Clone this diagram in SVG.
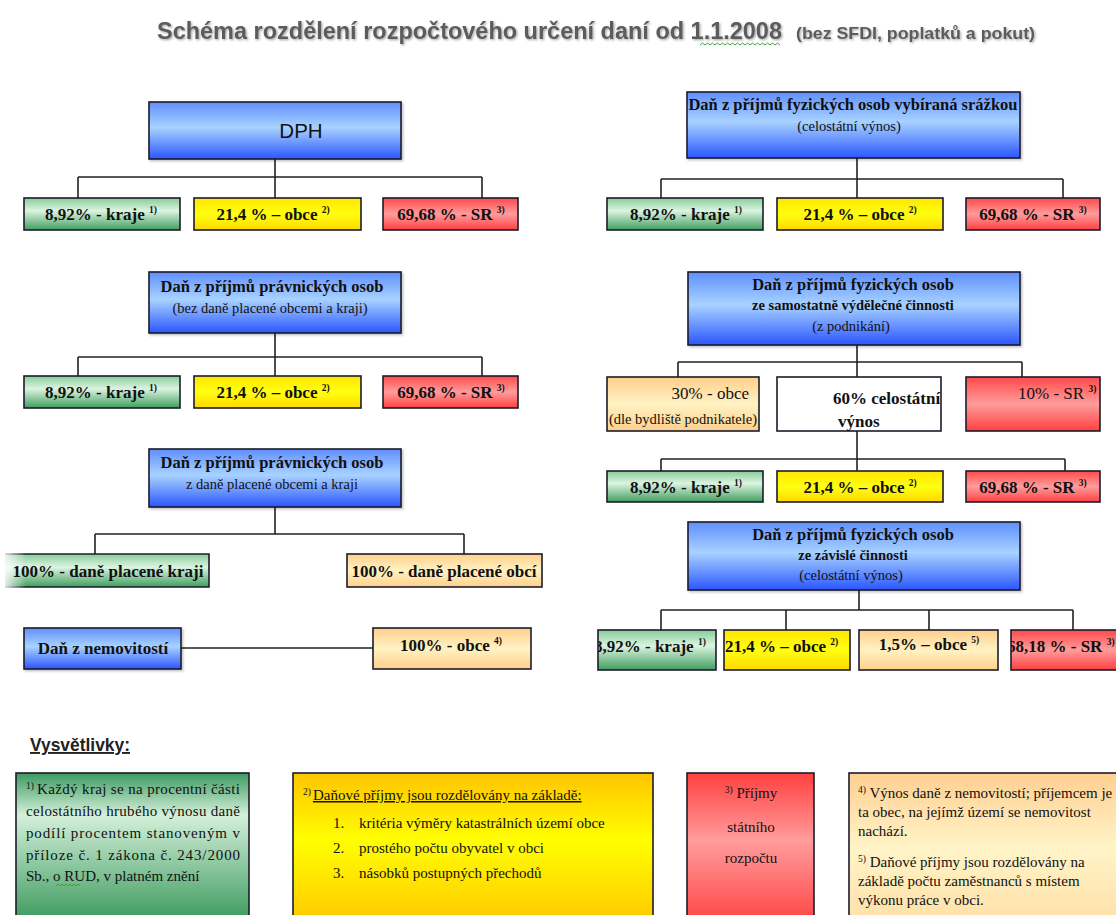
<svg xmlns="http://www.w3.org/2000/svg" width="1116" height="915" viewBox="0 0 1116 915">
<defs>
<linearGradient id="gBlue" x1="0" y1="0" x2="0" y2="1"><stop offset="0" stop-color="#5f8fff"/><stop offset="0.45" stop-color="#a8d2ff"/><stop offset="1" stop-color="#2b56ff"/></linearGradient>
<linearGradient id="gGreen" x1="0" y1="0" x2="0" y2="1"><stop offset="0" stop-color="#86cc98"/><stop offset="0.4" stop-color="#dcf4e1"/><stop offset="1" stop-color="#3f9e5e"/></linearGradient>
<linearGradient id="gYellow" x1="0" y1="0" x2="0" y2="1"><stop offset="0" stop-color="#ffe600"/><stop offset="0.5" stop-color="#ffff10"/><stop offset="1" stop-color="#ffd800"/></linearGradient>
<linearGradient id="gRed" x1="0" y1="0" x2="0" y2="1"><stop offset="0" stop-color="#ff4a4a"/><stop offset="0.5" stop-color="#ff9c9c"/><stop offset="1" stop-color="#ff4040"/></linearGradient>
<linearGradient id="gPeach" x1="0" y1="0" x2="0" y2="1"><stop offset="0" stop-color="#ffcf8c"/><stop offset="0.5" stop-color="#fff2c2"/><stop offset="1" stop-color="#ffd08c"/></linearGradient>
<linearGradient id="gLGreen" x1="0" y1="0" x2="0" y2="1"><stop offset="0" stop-color="#3d9a60"/><stop offset="0.28" stop-color="#d4f0da"/><stop offset="1" stop-color="#3a985c"/></linearGradient>
<linearGradient id="gLYellow" x1="0" y1="0" x2="0" y2="1"><stop offset="0" stop-color="#ffc400"/><stop offset="0.45" stop-color="#ffff00"/><stop offset="1" stop-color="#ffc800"/></linearGradient>
<linearGradient id="gLRed" x1="0" y1="0" x2="0" y2="1"><stop offset="0" stop-color="#ff4040"/><stop offset="0.45" stop-color="#ff9c9c"/><stop offset="1" stop-color="#ff4545"/></linearGradient>
<linearGradient id="gLPeach" x1="0" y1="0" x2="0" y2="1"><stop offset="0" stop-color="#ffcf90"/><stop offset="0.5" stop-color="#fff4c8"/><stop offset="1" stop-color="#ffe0a8"/></linearGradient>
<linearGradient id="gFade" x1="0" y1="0" x2="1" y2="0"><stop offset="0" stop-color="#ffffff" stop-opacity="1"/><stop offset="1" stop-color="#ffffff" stop-opacity="0"/></linearGradient>
<filter id="tshadow" x="-5%" y="-30%" width="110%" height="160%"><feDropShadow dx="1.2" dy="1.2" stdDeviation="0.8" flood-color="#000" flood-opacity="0.35"/></filter>
<filter id="bshadow" x="-5%" y="-10%" width="115%" height="130%"><feDropShadow dx="1.5" dy="1.5" stdDeviation="1.2" flood-color="#000" flood-opacity="0.25"/></filter>
<clipPath id="clipG4"><rect x="598" y="630" width="118" height="40"/></clipPath>
<clipPath id="clipR4"><rect x="1011" y="630" width="110" height="40"/></clipPath>
</defs>
<style>
.bx{stroke:#1c1c2c;stroke-width:1.6}
.conn{stroke:#222;stroke-width:1.6;fill:none}
.t{font-family:"Liberation Serif","Times New Roman",serif;fill:#111}
.b{font-weight:bold}
.h{font-size:16.5px}
.lf{font-size:17px}
.f16{font-size:16px}
.f14{font-size:14.5px}
.f15{font-size:15px}
.sup{font-size:9.5px}
.mid{text-anchor:middle}
.sans{font-family:"Liberation Sans",Arial,sans-serif}
.wave{fill:none;stroke:#3aa33a;stroke-width:1}
</style>
<rect width="1116" height="915" fill="#ffffff"/>

<g id="title" filter="url(#tshadow)">
<text class="sans" x="157" y="39" font-size="24" font-weight="bold" fill="#5c5c5c" textLength="625" lengthAdjust="spacingAndGlyphs">Schéma rozdělení rozpočtového určení daní od 1.1.2008</text>
<text class="sans" x="796" y="39" font-size="17" font-weight="bold" fill="#5c5c5c" textLength="239" lengthAdjust="spacingAndGlyphs">(bez SFDI, poplatků a pokut)</text>
</g>
<path class="wave" d="M700 45 l2.5 -2 l2.5 2 l2.5 -2 l2.5 2 l2.5 -2 l2.5 2 l2.5 -2 l2.5 2 l2.5 -2 l2.5 2 l2.5 -2 l2.5 2 l2.5 -2 l2.5 2 l2.5 -2 l2.5 2 l2.5 -2 l2.5 2 l2.5 -2 l2.5 2 l2.5 -2 l2.5 2 l2.5 -2 l2.5 2 l2.5 -2 l2.5 2 l2.5 -2 l2.5 2 l2.5 -2 l2.5 2 l2.5 -2 l2.5 2"/>

<g id="connectors">
<path class="conn" d="M275 159V177M78 177H482M78 177V198M275 177V198M482 177V198"/>
<path class="conn" d="M275 333V357M78 357H482M78 357V376M275 357V376M482 357V376"/>
<path class="conn" d="M275 507V534M95 534H464M95 534V554M464 534V554"/>
<path class="conn" d="M181 648H373"/>
<path class="conn" d="M857 158V179M661 179H1063M661 179V198M857 179V198M1063 179V198"/>
<path class="conn" d="M857 345V362M678 362H1022M678 362V377M857 362V377M1022 362V377"/>
<path class="conn" d="M857 431V459M661 459H1065M661 459V471M857 459V471M1065 459V471"/>
<path class="conn" d="M859 590V610M661 610H1073M661 610V630M786 610V630M929 610V630M1073 610V630"/>
</g>

<!-- Left column -->
<g id="node-dph">
<rect class="bx" x="149" y="102" width="252" height="57" fill="url(#gBlue)" filter="url(#bshadow)"/>
<text class="sans" x="301" y="138" font-size="20.5" fill="#111" text-anchor="middle">DPH</text>
</g>
<g id="node-dph-kraje"><rect class="bx" x="24" y="198" width="156" height="32" fill="url(#gGreen)"/><text class="t b lf mid" x="101" y="220">8,92% - kraje <tspan class="sup" dy="-7">1)</tspan></text></g>
<g id="node-dph-obce"><rect class="bx" x="194" y="198" width="167" height="32" fill="url(#gYellow)"/><text class="t b lf mid" x="273" y="220">21,4 % – obce <tspan class="sup" dy="-7">2)</tspan></text></g>
<g id="node-dph-sr"><rect class="bx" x="383" y="198" width="135" height="32" fill="url(#gRed)"/><text class="t b lf mid" x="451" y="220">69,68 % - SR <tspan class="sup" dy="-7">3)</tspan></text></g>

<g id="node-dppo">
<rect class="bx" x="149" y="272" width="252" height="61" fill="url(#gBlue)" filter="url(#bshadow)"/>
<text class="t b h mid" x="272" y="292">Daň z příjmů právnických osob</text>
<text class="t f14 mid" x="270" y="313">(bez daně placené obcemi a kraji)</text>
</g>
<g id="node-dppo-kraje"><rect class="bx" x="24" y="376" width="156" height="32" fill="url(#gGreen)"/><text class="t b lf mid" x="101" y="398">8,92% - kraje <tspan class="sup" dy="-7">1)</tspan></text></g>
<g id="node-dppo-obce"><rect class="bx" x="194" y="376" width="167" height="32" fill="url(#gYellow)"/><text class="t b lf mid" x="273" y="398">21,4 % – obce <tspan class="sup" dy="-7">2)</tspan></text></g>
<g id="node-dppo-sr"><rect class="bx" x="383" y="376" width="135" height="32" fill="url(#gRed)"/><text class="t b lf mid" x="451" y="398">69,68 % - SR <tspan class="sup" dy="-7">3)</tspan></text></g>

<g id="node-dppo-obce-kraje">
<rect class="bx" x="149" y="449" width="252" height="58" fill="url(#gBlue)" filter="url(#bshadow)"/>
<text class="t b h mid" x="272" y="468">Daň z příjmů právnických osob</text>
<text class="t f14 mid" x="272" y="489">z daně placené obcemi a kraji</text>
</g>
<g id="node-dane-kraji">
<rect x="5" y="554" width="204" height="33" fill="url(#gGreen)"/>
<path class="bx" fill="none" d="M5 554H209V587H5"/>
<rect x="0" y="552" width="26" height="37" fill="url(#gFade)"/>
<text class="t b lf mid" x="108" y="577">100% - daně placené kraji</text>
</g>
<g id="node-dane-obci"><rect class="bx" x="347" y="554" width="195" height="33" fill="url(#gPeach)"/><text class="t b lf mid" x="444" y="577">100% - daně placené obcí</text></g>

<g id="node-nemovitosti"><rect class="bx" x="24" y="628" width="157" height="41" fill="url(#gBlue)" filter="url(#bshadow)"/><text class="t b lf mid" x="103" y="654">Daň z nemovitostí</text></g>
<g id="node-nemovitosti-obce"><rect class="bx" x="373" y="628" width="158" height="41" fill="url(#gPeach)"/><text class="t b lf mid" x="451" y="651">100% - obce <tspan class="sup" dy="-7">4)</tspan></text></g>

<!-- Right column -->
<g id="node-dpfo-srazka">
<rect class="bx" x="687" y="92" width="333" height="66" fill="url(#gBlue)" filter="url(#bshadow)"/>
<text class="t b h mid" x="853" y="110">Daň z příjmů fyzických osob vybíraná srážkou</text>
<text class="t f14 mid" x="849" y="131">(celostátní výnos)</text>
</g>
<g id="node-srazka-kraje"><rect class="bx" x="607" y="198" width="156" height="32" fill="url(#gGreen)"/><text class="t b lf mid" x="686" y="220">8,92% - kraje <tspan class="sup" dy="-7">1)</tspan></text></g>
<g id="node-srazka-obce"><rect class="bx" x="777" y="198" width="166" height="32" fill="url(#gYellow)"/><text class="t b lf mid" x="860" y="220">21,4 % – obce <tspan class="sup" dy="-7">2)</tspan></text></g>
<g id="node-srazka-sr"><rect class="bx" x="966" y="198" width="134" height="32" fill="url(#gRed)"/><text class="t b lf mid" x="1033" y="220">69,68 % - SR <tspan class="sup" dy="-7">3)</tspan></text></g>

<g id="node-dpfo-osvc">
<rect class="bx" x="688" y="272" width="332" height="73" fill="url(#gBlue)" filter="url(#bshadow)"/>
<text class="t b h mid" x="853" y="290">Daň z příjmů fyzických osob</text>
<text class="t b f14 mid" x="853" y="310">ze samostatně výdělečné činnosti</text>
<text class="t f14 mid" x="851" y="331">(z podnikání)</text>
</g>
<g id="node-osvc-obce"><rect class="bx" x="607" y="377" width="152" height="54" fill="url(#gPeach)"/>
<text class="t lf" x="749" y="399" text-anchor="end">30% - obce</text>
<text class="t f14 mid" x="683" y="424">(dle bydliště podnikatele)</text></g>
<g id="node-osvc-celostatni"><rect class="bx" x="777" y="377" width="164" height="54" fill="#ffffff"/>
<text class="t b lf" x="833" y="404">60% celostátní</text>
<text class="t b lf" x="838" y="427">výnos</text></g>
<g id="node-osvc-sr"><rect class="bx" x="966" y="377" width="134" height="54" fill="url(#gRed)"/><text class="t lf" x="1018" y="399">10% - SR <tspan class="sup b" dy="-7">3)</tspan></text></g>

<g id="node-osvc-kraje"><rect class="bx" x="607" y="471" width="156" height="31" fill="url(#gGreen)"/><text class="t b lf mid" x="686" y="493">8,92% - kraje <tspan class="sup" dy="-7">1)</tspan></text></g>
<g id="node-osvc-obce2"><rect class="bx" x="777" y="471" width="166" height="31" fill="url(#gYellow)"/><text class="t b lf mid" x="860" y="493">21,4 % – obce <tspan class="sup" dy="-7">2)</tspan></text></g>
<g id="node-osvc-sr2"><rect class="bx" x="966" y="471" width="134" height="31" fill="url(#gRed)"/><text class="t b lf mid" x="1033" y="493">69,68 % - SR <tspan class="sup" dy="-7">3)</tspan></text></g>

<g id="node-dpfo-zc">
<rect class="bx" x="688" y="522" width="332" height="68" fill="url(#gBlue)" filter="url(#bshadow)"/>
<text class="t b h mid" x="853" y="540">Daň z příjmů fyzických osob</text>
<text class="t b f14 mid" x="853" y="560">ze závislé činnosti</text>
<text class="t f14 mid" x="851" y="580">(celostátní výnos)</text>
</g>
<g id="node-zc-kraje"><rect class="bx" x="598" y="630" width="118" height="40" fill="url(#gGreen)"/><text class="t b lf" x="594" y="652" clip-path="url(#clipG4)">8,92% - kraje <tspan class="sup" dy="-7">1)</tspan></text></g>
<g id="node-zc-obce"><rect class="bx" x="724" y="630" width="126" height="40" fill="url(#gYellow)"/><text class="t b lf" x="725" y="652">21,4 % – obce <tspan class="sup" dy="-7">2)</tspan></text></g>
<g id="node-zc-obce15"><rect class="bx" x="859" y="630" width="139" height="40" fill="url(#gPeach)"/><text class="t b lf mid" x="929" y="650">1,5% – obce <tspan class="sup" dy="-7">5)</tspan></text></g>
<g id="node-zc-sr"><rect class="bx" x="1011" y="630" width="110" height="40" fill="url(#gRed)"/><text class="t b lf" x="1007" y="652" clip-path="url(#clipR4)">68,18 % - SR <tspan class="sup" dy="-7">3)</tspan></text></g>

<!-- Legend -->
<g id="legend-title"><text class="sans" x="30" y="751" font-size="19" font-weight="bold" fill="#222" text-decoration="underline" textLength="100" lengthAdjust="spacingAndGlyphs">Vysvětlivky:</text></g>

<g id="legend-1">
<rect class="bx" x="16" y="773" width="233" height="150" fill="url(#gLGreen)"/>
<text class="t f15" x="26" y="794"><tspan class="sup" dy="-5">1)</tspan><tspan dy="5" x="37" textLength="203" lengthAdjust="spacing">Každý kraj se na procentní části</tspan></text>
<text class="t f15" x="26" y="816" textLength="214" lengthAdjust="spacing">celostátního hrubého výnosu daně</text>
<text class="t f15" x="26" y="838" textLength="214" lengthAdjust="spacing">podílí procentem stanoveným v</text>
<text class="t f15" x="26" y="860" textLength="214" lengthAdjust="spacing">příloze č. 1 zákona č. 243/2000</text>
<text class="t f15" x="26" y="881">Sb., o RUD, v platném znění</text>
<path class="wave" d="M56 886 l2 -2 l2 2 l2 -2 l2 2 l2 -2 l2 2 l2 -2 l2 2 l2 -2 l2 2 l2 -2 l2 2"/>
</g>

<g id="legend-2">
<rect class="bx" x="293" y="773" width="360" height="150" fill="url(#gLYellow)"/>
<text class="t f15" x="303" y="800"><tspan class="sup" dy="-5">2)</tspan><tspan dy="5" dx="2" text-decoration="underline">Daňové příjmy jsou rozdělovány na základě:</tspan></text>
<text class="t f15" x="333" y="828">1.</text><text class="t f15" x="359" y="828">kritéria výměry katastrálních území obce</text>
<text class="t f15" x="333" y="853">2.</text><text class="t f15" x="359" y="853">prostého počtu obyvatel v obci</text>
<text class="t f15" x="333" y="878">3.</text><text class="t f15" x="359" y="878">násobků postupných přechodů</text>
</g>

<g id="legend-3">
<rect class="bx" x="687" y="773" width="127" height="150" fill="url(#gLRed)"/>
<text class="t f15 mid" x="751" y="798"><tspan class="sup" dy="-5">3)</tspan><tspan dy="5"> Příjmy</tspan></text>
<text class="t f15 mid" x="751" y="832">státního</text>
<text class="t f15 mid" x="751" y="863">rozpočtu</text>
</g>

<g id="legend-4">
<rect class="bx" x="849" y="773" width="275" height="150" fill="url(#gLPeach)"/>
<text class="t f15" x="858" y="798"><tspan class="sup" dy="-5">4)</tspan><tspan dy="5"> Výnos daně z nemovitostí; příjemcem je</tspan></text>
<text class="t f15" x="858" y="817">ta obec, na jejímž území se nemovitost</text>
<text class="t f15" x="858" y="836">nachází.</text>
<text class="t f15" x="858" y="867"><tspan class="sup" dy="-5">5)</tspan><tspan dy="5"> Daňové příjmy jsou rozdělovány na</tspan></text>
<text class="t f15" x="858" y="886">základě počtu zaměstnanců s místem</text>
<text class="t f15" x="858" y="905">výkonu práce v obci.</text>
</g>
</svg>
